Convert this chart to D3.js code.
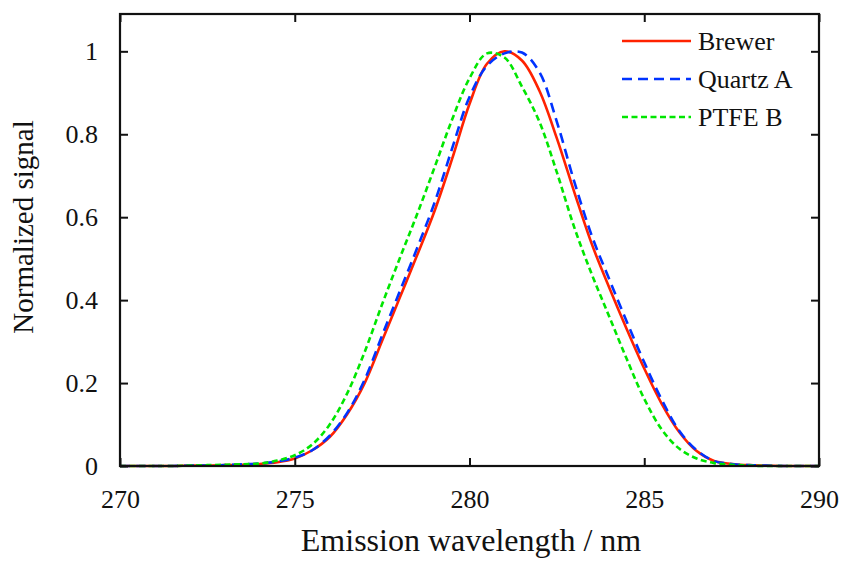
<!DOCTYPE html>
<html>
<head>
<meta charset="utf-8">
<script src="https://cdn.jsdelivr.net/npm/d3@7"></script>
<style>
  body { margin: 0; background: #fff; }
</style>
</head>
<body>
<div id="chart"></div>
<script>
var FONT = "'Liberation Serif', 'Times New Roman', serif";

// wavelength grid (nm)
var wavelengths = [270, 270.5, 271, 271.5, 272, 272.5, 273, 273.5, 274, 274.5, 275, 275.5, 276, 276.5, 277, 277.5,
    278, 278.5, 279, 279.5, 280, 280.5, 281, 281.5, 282, 282.5, 283, 283.5, 284, 284.5, 285, 285.5,
    286, 286.5, 287, 287.5, 288, 288.5, 289, 289.5, 290];

var brewer = [0, 0, 0, 0, 0.001, 0.001, 0.002, 0.003, 0.005, 0.009, 0.018, 0.038, 0.07, 0.125, 0.2, 0.302,
    0.405, 0.508, 0.615, 0.74, 0.873, 0.97, 1.0, 0.978, 0.905, 0.79, 0.66, 0.535, 0.43, 0.33, 0.235, 0.15,
    0.082, 0.036, 0.012, 0.005, 0.002, 0.001, 0, 0, 0];

var quartzA = [0, 0, 0, 0, 0.001, 0.001, 0.002, 0.004, 0.006, 0.011, 0.02, 0.038, 0.073, 0.128, 0.208, 0.315,
    0.42, 0.525, 0.635, 0.765, 0.89, 0.965, 0.995, 0.997, 0.95, 0.83, 0.685, 0.555, 0.45, 0.348, 0.25, 0.16,
    0.085, 0.038, 0.012, 0.005, 0.002, 0.001, 0, 0, 0];

var ptfeB = [0, 0, 0, 0, 0.001, 0.002, 0.003, 0.004, 0.006, 0.013, 0.026, 0.052, 0.1, 0.175, 0.275, 0.39,
    0.5, 0.607, 0.72, 0.835, 0.935, 0.995, 0.985, 0.915, 0.83, 0.708, 0.575, 0.462, 0.36, 0.258, 0.162, 0.088,
    0.042, 0.018, 0.007, 0.003, 0.001, 0, 0, 0, 0];

var seriesNames = ["Brewer", "Quartz A", "PTFE B"];
var xTicks = [270, 275, 280, 285, 290];
var yTicks = [0, 0.2, 0.4, 0.6, 0.8, 1];

var width = 841, height = 562;
var margin = { top: 14, right: 22, bottom: 96, left: 120 };
var plotW = width - margin.left - margin.right,
    plotH = height - margin.top - margin.bottom;

var svg = d3.select("#chart").append("svg")
    .attr("width", width)
    .attr("height", height)
    .style("font-family", FONT);

var g = svg.append("g")
    .attr("transform", "translate(" + margin.left + "," + margin.top + ")");

var x = d3.scaleLinear().domain([270, 290]).range([0, plotW]);
var y = d3.scaleLinear().domain([0, 1.09]).range([plotH, 0]);

var styles = [
    { color: "#ff2200", dash: null, w: 2.6 },
    { color: "#0033ff", dash: "10,6", w: 2.6 },
    { color: "#00e600", dash: "6,3.5", w: 2.6 }
];
var allSeries = [brewer, quartzA, ptfeB];

g.append("defs").append("clipPath").attr("id", "clip")
    .append("rect").attr("x", -2).attr("y", 0).attr("width", plotW + 4).attr("height", plotH + 2);

var line = d3.line()
    .x(function (d, i) { return x(wavelengths[i]); })
    .y(function (d) { return y(Math.max(0, d)); })
    .curve(d3.curveCatmullRom.alpha(0.5));

g.append("g").attr("clip-path", "url(#clip)")
    .selectAll("path.series")
    .data(allSeries)
    .enter()
    .append("path")
    .attr("class", "series")
    .attr("d", line)
    .attr("fill", "none")
    .attr("stroke", function (d, i) { return styles[i].color; })
    .attr("stroke-width", function (d, i) { return styles[i].w; })
    .attr("stroke-dasharray", function (d, i) { return styles[i].dash; });

// Axes: ticks pointing inward on all four sides
var tickLen = 8;
var axisBottom = d3.axisBottom(x).tickValues(xTicks).tickSizeInner(-tickLen).tickSizeOuter(0).tickPadding(24);
var axisTop = d3.axisTop(x).tickValues(xTicks).tickSizeInner(-tickLen).tickSizeOuter(0).tickFormat("");
var axisLeft = d3.axisLeft(y).tickValues(yTicks).tickSizeInner(-tickLen).tickSizeOuter(0).tickPadding(22)
    .tickFormat(function (d) { return d === 0 || d === 1 ? d3.format("d")(d) : d3.format(".1f")(d); });
var axisRight = d3.axisRight(y).tickValues(yTicks).tickSizeInner(-tickLen).tickSizeOuter(0).tickFormat("");

function styleAxis(sel) {
    sel.attr("font-family", FONT);
    sel.select(".domain").remove();
    sel.selectAll(".tick line").attr("stroke", "#111").attr("stroke-width", 2);
    sel.selectAll(".tick text").style("font-size", "26px").style("font-family", FONT).attr("fill", "#111");
}

g.append("g").attr("transform", "translate(0," + plotH + ")").call(axisBottom).call(styleAxis);
g.append("g").call(axisTop).call(styleAxis);
g.append("g").call(axisLeft).call(styleAxis);
g.append("g").attr("transform", "translate(" + plotW + ",0)").call(axisRight).call(styleAxis);

// Frame
g.append("rect")
    .attr("x", 0).attr("y", 0)
    .attr("width", plotW).attr("height", plotH)
    .attr("fill", "none")
    .attr("stroke", "#111")
    .attr("stroke-width", 2.2);

// Axis titles
svg.append("text")
    .attr("x", 471)
    .attr("y", 551)
    .attr("text-anchor", "middle")
    .attr("fill", "#111")
    .style("font-family", FONT)
    .style("font-size", "32px")
    .text("Emission wavelength / nm");

svg.append("text")
    .attr("transform", "translate(33,227) rotate(-90)")
    .attr("text-anchor", "middle")
    .attr("fill", "#111")
    .style("font-family", FONT)
    .style("font-size", "29px")
    .text("Normalized signal");

// Legend
var legend = svg.append("g").attr("transform", "translate(622,41)");
var rows = legend.selectAll("g.row")
    .data(seriesNames)
    .enter()
    .append("g")
    .attr("class", "row")
    .attr("transform", function (d, i) { return "translate(0," + i * 38 + ")"; });
rows.append("line")
    .attr("x1", 0).attr("x2", 69)
    .attr("y1", 0).attr("y2", 0)
    .attr("stroke", function (d, i) { return styles[i].color; })
    .attr("stroke-width", 2.6)
    .attr("stroke-dasharray", function (d, i) { return styles[i].dash; });
rows.append("text")
    .attr("x", 76)
    .attr("y", 9)
    .attr("fill", "#111")
    .style("font-family", FONT)
    .style("font-size", "26px")
    .text(function (d) { return d; });
</script>
</body>
</html>
